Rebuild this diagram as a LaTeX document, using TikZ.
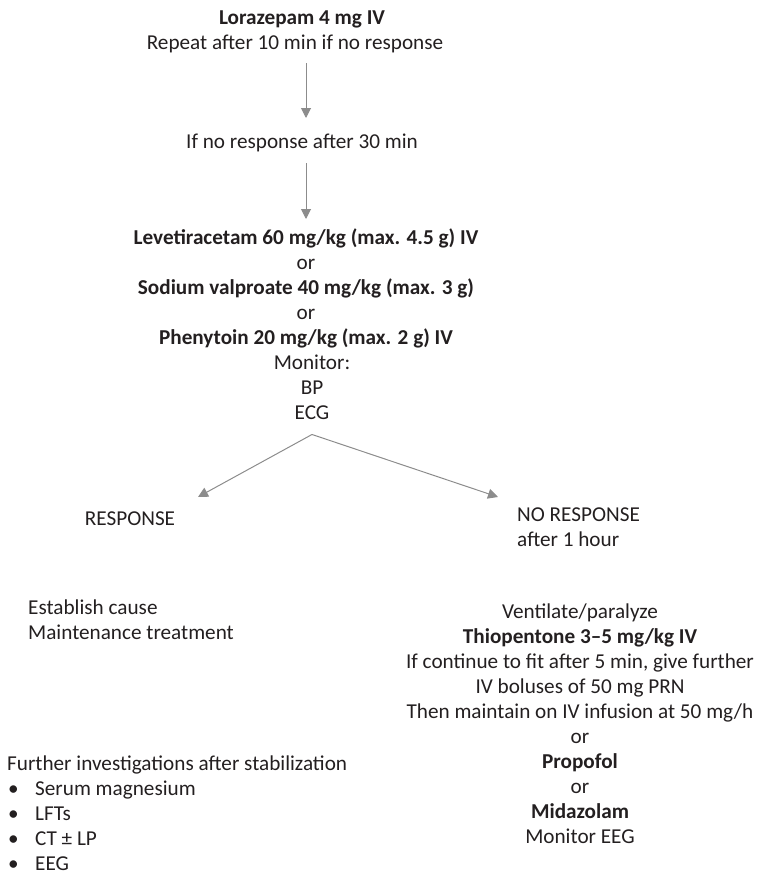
\documentclass[tikz,border=0pt]{standalone}
\usepackage{fontspec}
\setmainfont{Carlito}
\usetikzlibrary{arrows.meta}
\definecolor{ink}{RGB}{35,31,32}
\definecolor{flowgray}{RGB}{140,140,140}
\begin{document}
\begin{tikzpicture}[x=1pt,y=-1pt,
  txt/.style={inner sep=0pt, text=ink, font=\fontsize{21.2}{25}\selectfont,
    execute at begin node=\strut, execute at end node=\strut},
  ctr/.style={txt, anchor=north, align=center},
  lft/.style={txt, anchor=north west, align=left},
  flow/.style={draw=flowgray, line width=1pt,
    -{Triangle[length=10pt,width=10pt]}, color=flowgray}]
\useasboundingbox (0,0) rectangle (759,875);

% first-line top = baseline - 17.5
\node[ctr] (lora) at (302,6.5) {\textbf{Lorazepam 4 mg IV}};
\node[ctr] (rep)  at (295,31.5) {Repeat after 10 min if no response};
\node[ctr] (ifno) at (302,130.5) {If no response after 30 min};
\node[ctr] (drugs) at (306,228.5) {\textbf{Levetiracetam 60 mg/kg (max. 4.5 g) IV}\\
  or\\ \textbf{Sodium valproate 40 mg/kg (max. 3 g)}\\ or\\
  \textbf{Phenytoin 20 mg/kg (max. 2 g) IV}};
\node[ctr] (mon) at (312,354.5) {Monitor:\\ BP\\ ECG};
\node[ctr] (resp) at (130,507.5) {RESPONSE};
\node[lft] (nore) at (517,507.5) {NO RESPONSE\\ after 1 hour};
\node[lft] (est) at (28,599.5) {Establish cause\\ Maintenance treatment};
\node[ctr] (vent) at (580,603.5) {Ventilate/paralyze\\
  \textbf{Thiopentone 3–5 mg/kg IV}\\
  If continue to fit after 5 min, give further\\
  IV boluses of 50 mg PRN\\
  Then maintain on IV infusion at 50 mg/h\\
  or\\ \textbf{Propofol}\\ or\\ \textbf{Midazolam}\\ Monitor EEG};
\node[lft] (inv) at (7,755.5) {Further investigations after stabilization\\
  \makebox[28pt][l]{\hspace*{1pt}•}Serum magnesium\\
  \makebox[28pt][l]{\hspace*{1pt}•}LFTs\\
  \makebox[28pt][l]{\hspace*{1pt}•}CT ± LP\\
  \makebox[28pt][l]{\hspace*{1pt}•}EEG};

% connectors
\draw[flow, shorten <=6.5pt, shorten >=12.5pt]
  (rep.south -| drugs.north) -- (ifno.north -| drugs.north);
\draw[flow, shorten <=7.5pt, shorten >=9.5pt]
  (ifno.south -| drugs.north) -- (drugs.north);
\coordinate (fork) at ([yshift=-7.5pt]mon.south);
\coordinate (respin) at ([xshift=68pt,yshift=10.5pt]resp.north);
\coordinate (norein) at ([xshift=-19pt,yshift=10.5pt]nore.north west);
\draw[flow] (fork) -- (respin);
\draw[flow] (fork) -- (norein);
\end{tikzpicture}
\end{document}
